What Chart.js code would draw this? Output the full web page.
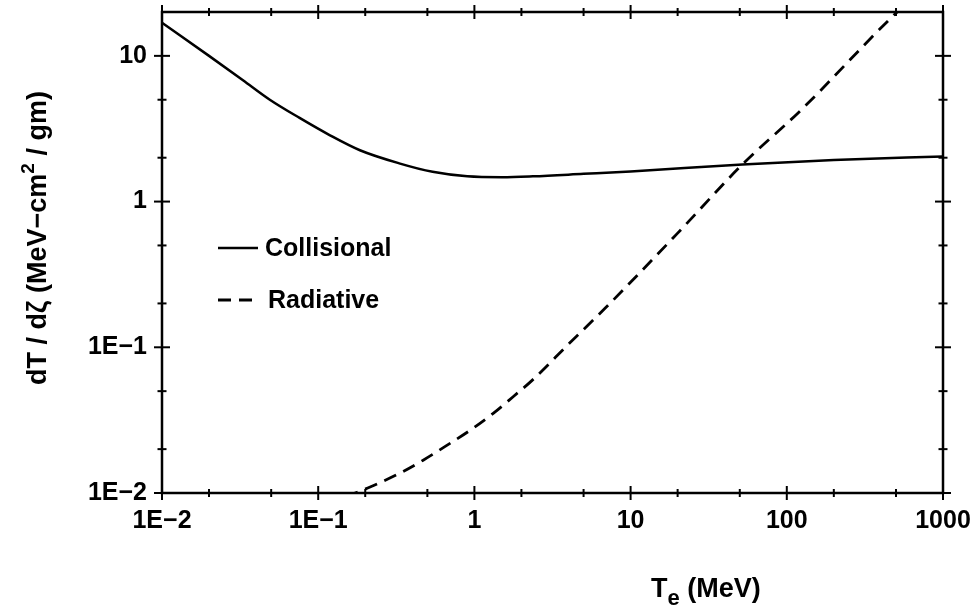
<!DOCTYPE html>
<html>
<head>
<meta charset="utf-8">
<script src="https://cdn.jsdelivr.net/npm/chart.js@4.4.1/dist/chart.umd.min.js"></script>
<style>
  html, body { margin: 0; padding: 0; background: #fff; }
  #wrap { width: 979px; height: 610px; }
</style>
</head>
<body>
<div id="wrap"><canvas id="myChart"></canvas></div>
<script>
// valores (MeV, MeV-cm2/gm)
const energyCol = [0.01, 0.02, 0.033, 0.049, 0.076, 0.119, 0.185, 0.33, 0.54, 0.9, 1.5, 2.37, 5, 10, 52, 200, 1000];
const collisional = [16.9, 10.0, 6.8, 5.0, 3.75, 2.85, 2.25, 1.83, 1.6, 1.49, 1.47, 1.49, 1.55, 1.61, 1.80, 1.93, 2.04];

const energyRad = [0.15, 0.215, 0.334, 0.47, 0.67, 0.98, 1.32, 1.77, 2.37, 4, 6.86, 19.8, 52, 122, 479, 600];
const radiative = [0.0094, 0.011, 0.0137, 0.0168, 0.0213, 0.0278, 0.0352, 0.0458, 0.060, 0.105, 0.185, 0.60, 1.8, 4.2, 18.8, 23.5];

const xMajor = [0.01, 0.1, 1, 10, 100, 1000];
const xMinor = [0.02, 0.05, 0.2, 0.5, 2, 5, 20, 50, 200, 500];
const yMajor = [0.01, 0.1, 1, 10];
const yMinor = [0.02, 0.05, 0.2, 0.5, 2, 5];
const xTickLabels = ['1E\u22122', '1E\u22121', '1', '10', '100', '1000'];
const yTickLabels = ['1E\u22122', '1E\u22121', '1', '10'];

const seriesNames = ['Collisional', 'Radiative'];

const FONT = 'Liberation Sans, Arial, sans-serif';
const tickFont = { family: FONT, size: 25, weight: 'bold' };

function pts(xs, ys) {
  return xs.map((v, i) => ({ x: v, y: ys[i] }));
}

// caixa com ticks nos quatro lados, titulos e legenda
const frame = {
  id: 'frame',
  afterDraw(chart) {
    const { ctx, chartArea: a, scales: { x, y } } = chart;
    ctx.save();
    ctx.strokeStyle = '#000';
    ctx.fillStyle = '#000';
    ctx.lineWidth = 2.5;
    ctx.strokeRect(a.left, a.top, a.right - a.left, a.bottom - a.top);

    ctx.lineWidth = 2;
    const seg = (x1, y1, x2, y2) => {
      ctx.beginPath(); ctx.moveTo(x1, y1); ctx.lineTo(x2, y2); ctx.stroke();
    };
    const xt = (v, len) => {
      const p = x.getPixelForValue(v);
      seg(p, a.top - len, p, a.top + len);
      seg(p, a.bottom - len, p, a.bottom + len);
    };
    const yt = (v, len) => {
      const p = y.getPixelForValue(v);
      seg(a.left - len, p, a.left + len, p);
      seg(a.right - len, p, a.right + len, p);
    };
    xMajor.forEach(v => xt(v, 7));
    xMinor.forEach(v => xt(v, 4));
    yMajor.forEach(v => yt(v, 8));
    yMinor.forEach(v => yt(v, 4.5));

    // titulo do eixo y (rotacionado, com expoente)
    ctx.save();
    ctx.translate(36, 238);
    ctx.rotate(-Math.PI / 2);
    ctx.textBaseline = 'alphabetic';
    const big = 'bold 27px ' + FONT;
    const small = 'bold 19px ' + FONT;
    const parts = [['dT / d\u03B6 (MeV\u2212cm', big, 0], ['2', small, -12], [' / gm)', big, 0]];
    let total = 0;
    parts.forEach(p => { ctx.font = p[1]; total += ctx.measureText(p[0]).width; });
    let cx = -total / 2;
    parts.forEach(p => {
      ctx.font = p[1];
      ctx.fillText(p[0], cx, 10 + p[2]);
      cx += ctx.measureText(p[0]).width;
    });
    ctx.restore();

    // titulo do eixo x (com subscrito)
    ctx.textBaseline = 'alphabetic';
    let tx = 651;
    ctx.font = 'bold 27px ' + FONT;
    ctx.fillText('T', tx, 597);
    tx += ctx.measureText('T').width;
    ctx.font = 'bold 22px ' + FONT;
    ctx.fillText('e', tx, 605);
    tx += ctx.measureText('e').width;
    ctx.font = 'bold 27px ' + FONT;
    ctx.fillText(' (MeV)', tx, 597);

    // legenda
    const legY = [248, 300];
    chart.data.datasets.forEach((ds, i) => {
      ctx.lineWidth = ds.borderWidth;
      ctx.setLineDash(ds.borderDash || []);
      seg(218, legY[i], 258, legY[i]);
      ctx.setLineDash([]);
      ctx.font = 'bold 25px ' + FONT;
      ctx.textBaseline = 'middle';
      ctx.fillText(ds.label, i === 0 ? 265 : 268, legY[i] + 1);
    });
    ctx.restore();
  }
};

const grafico = document.getElementById('myChart');
new Chart(grafico, {
  type: 'scatter',
  data: {
    datasets: [{
      label: seriesNames[0],
      data: pts(energyCol, collisional),
      showLine: true,
      borderColor: '#000',
      borderWidth: 2.5,
      pointRadius: 0,
      cubicInterpolationMode: 'monotone'
    }, {
      label: seriesNames[1],
      data: pts(energyRad, radiative),
      showLine: true,
      borderColor: '#000',
      borderWidth: 2.8,
      borderDash: [13, 8],
      pointRadius: 0,
      cubicInterpolationMode: 'monotone'
    }]
  },
  options: {
    responsive: true,
    maintainAspectRatio: false,
    animation: false,
    devicePixelRatio: 1,
    layout: { padding: { left: 0, top: 12, right: 36, bottom: 0 } },
    plugins: { legend: { display: false }, tooltip: { enabled: false } },
    scales: {
      x: {
        type: 'logarithmic',
        min: 0.01,
        max: 1000,
        grid: { display: false, drawTicks: false },
        border: { display: false },
        ticks: {
          font: tickFont,
          color: '#000',
          padding: 13,
          maxRotation: 0,
          autoSkip: false,
          callback: (v, i) => xTickLabels[i]
        },
        afterBuildTicks: s => { s.ticks = xMajor.map(v => ({ value: v })); },
        afterFit: s => { s.height = 117; s.paddingLeft = 0; s.paddingRight = 0; }
      },
      y: {
        type: 'logarithmic',
        min: 0.01,
        max: 20,
        grid: { display: false, drawTicks: false },
        border: { display: false },
        ticks: {
          font: tickFont,
          color: '#000',
          padding: 15,
          autoSkip: false,
          callback: (v, i) => yTickLabels[i]
        },
        afterBuildTicks: s => { s.ticks = yMajor.map(v => ({ value: v })); },
        afterFit: s => { s.width = 162; s.paddingTop = 0; s.paddingBottom = 0; }
      }
    }
  },
  plugins: [frame]
});
</script>
</body>
</html>
